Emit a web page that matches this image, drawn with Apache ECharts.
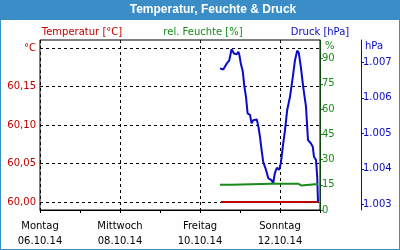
<!DOCTYPE html>
<html><head><meta charset="utf-8">
<script src="https://cdn.jsdelivr.net/npm/echarts@6/dist/echarts.min.js"></script>
<style>html,body{margin:0;padding:0;background:#fff}#c{width:400px;height:250px}</style>
</head><body><div id="c"></div>
<script>
// x values are days since Montag 06.10.14 00:00
const dayNames = ['Montag','Dienstag','Mittwoch','Donnerstag','Freitag','Samstag','Sonntag','Montag'];
const dayDates = ['06.10.14','07.10.14','08.10.14','09.10.14','10.10.14','11.10.14','12.10.14','13.10.14'];
const tempTicks = [60.00, 60.05, 60.10, 60.15, 60.20];
const humTicks = [0, 15, 30, 45, 60, 75, 90];
const pressTicks = [1003, 1004, 1005, 1006, 1007];

const pressX = [4.50,4.54,4.58,4.67,4.73,4.77,4.79,4.82,4.85,4.875,4.92,4.96,4.98,5.02,5.07,5.11,5.15,5.19,5.25,5.29,5.33,5.42,5.46,5.50,5.54,5.58,5.65,5.71,5.79,5.83,5.87,5.92,5.975,6.02,6.07,6.125,6.18,6.25,6.32,6.375,6.43,6.47,6.52,6.58,6.65,6.70,6.77,6.82,6.85,6.90,6.93,6.95];
const pressY = [1006.83,1006.78,1006.80,1006.97,1007.05,1007.08,1007.37,1007.39,1007.25,1007.21,1007.23,1007.30,1007.23,1006.97,1006.74,1006.31,1006.03,1005.56,1005.52,1005.28,1005.37,1005.39,1005.19,1004.90,1004.53,1004.20,1003.97,1003.73,1003.68,1003.59,1003.87,1004.03,1003.97,1004.15,1004.62,1005.09,1005.66,1006.03,1006.59,1007.06,1007.33,1007.27,1006.88,1006.31,1005.75,1004.81,1004.72,1004.62,1004.34,1004.25,1003.78,1003.07];

const humX = [4.50,4.79,4.80,5.80,5.81,5.84,5.85,6.45,6.47,6.53,6.55,6.95];
const humY = [15.05,15.05,15.65,15.65,15.30,15.30,15.65,15.65,14.6,14.6,15.4,15.4];

const tempX = [4.52,5.00,5.50,6.00,6.50,6.95];
const tempY = [60.00,60.00,60.00,60.00,60.00,60.00];

const RED = '#c00000', GREEN = '#1a8a1a', BLUE = '#0a0ac8', BLACK = '#000000';
const FONT = 'DejaVu Sans';

const chart = echarts.init(document.getElementById('c'), null, {renderer: 'canvas'});
const zip = (a, b) => a.map((v, i) => [v, b[i]]);

chart.setOption({
  animation: false,
  backgroundColor: '#fdfefd',
  textStyle: {fontFamily: FONT},
  graphic: [
    {type: 'rect', left: 0, top: 0, shape: {x: 0, y: 0, width: 400, height: 20}, style: {fill: '#3b8dc7'}, z: 0},
    {type: 'rect', shape: {x: 0.5, y: 0.5, width: 399, height: 249}, style: {fill: null, stroke: '#3b8dc7', lineWidth: 1}, z: 0},
    {type: 'text', x: 213, y: 10, style: {text: 'Temperatur, Feuchte & Druck', fill: '#fff', font: 'bold 12px "Liberation Sans"', textAlign: 'center', textVerticalAlign: 'middle'}},
    {type: 'text', x: 82, y: 32, style: {text: 'Temperatur [°C]', fill: RED, font: '10px "DejaVu Sans"', textAlign: 'center', textVerticalAlign: 'middle'}},
    {type: 'text', x: 203, y: 32, style: {text: 'rel. Feuchte [%]', fill: GREEN, font: '10px "DejaVu Sans"', textAlign: 'center', textVerticalAlign: 'middle'}},
    {type: 'text', x: 320, y: 32, style: {text: 'Druck [hPa]', fill: BLUE, font: '10px "DejaVu Sans"', textAlign: 'center', textVerticalAlign: 'middle'}},
    {type: 'text', x: 325, y: 46, style: {text: '%', fill: GREEN, font: '10px "DejaVu Sans"', textAlign: 'left', textVerticalAlign: 'middle'}},
    {type: 'text', x: 365, y: 46, style: {text: 'hPa', fill: BLUE, font: '10px "DejaVu Sans"', textAlign: 'left', textVerticalAlign: 'middle'}}
  ],
  grid: {left: 40, right: 80, top: 40, bottom: 40, show: true, borderColor: BLACK, borderWidth: 1, backgroundColor: 'transparent', z: 3},
  xAxis: [
    {type: 'value', min: 0, max: 7, interval: 1,
      axisLine: {onZero: false, lineStyle: {color: BLACK, width: 1}},
      axisTick: {show: true, length: 3, lineStyle: {color: BLACK}},
      splitLine: {show: false},
      axisLabel: {color: BLACK, fontSize: 10, fontFamily: FONT, lineHeight: 15, margin: 9,
        formatter: v => (Math.round(v) % 2 === 0 && v < 7) ? dayNames[Math.round(v)] + '\n' + dayDates[Math.round(v)] : ''}
    },
    {type: 'value', min: 0, max: 7, interval: 2,
      axisLine: {show: false, onZero: false}, axisTick: {show: false}, axisLabel: {show: false},
      splitLine: {show: true, lineStyle: {color: BLACK, type: [3, 3], width: 1}}
    }
  ],
  yAxis: [
    {type: 'value', position: 'left', min: 59.98961, max: 60.21039,
      axisLine: {show: false, onZero: false},
      axisTick: {show: false, customValues: tempTicks},
      splitLine: {show: true, lineStyle: {color: BLACK, type: [3, 3], width: 1}},
      axisLabel: {customValues: tempTicks, color: RED, fontSize: 10, fontFamily: FONT, margin: 4,
        formatter: v => Math.abs(v - 60.2) < 1e-6 ? '°C' : v.toFixed(2).replace('.', ',')}
    },
    {type: 'value', position: 'right', min: 0, max: 101.1,
      axisLine: {show: true, onZero: false, lineStyle: {color: GREEN}},
      axisTick: {show: true, inside: false, length: 3, customValues: humTicks, lineStyle: {color: GREEN}},
      splitLine: {show: false},
      axisLabel: {customValues: humTicks, color: GREEN, fontSize: 10, fontFamily: FONT, margin: 2}
    },
    {type: 'value', position: 'right', offset: 41, min: 1002.84, max: 1007.63,
      axisLine: {show: true, onZero: false, lineStyle: {color: BLUE}},
      axisTick: {show: true, length: 3, customValues: pressTicks, lineStyle: {color: BLUE}},
      splitLine: {show: false},
      axisLabel: {customValues: pressTicks, color: BLUE, fontSize: 10, fontFamily: FONT, margin: 2,
        formatter: v => '1.' + String(Math.round(v - 1000)).padStart(3, '0')}
    }
  ],
  series: [
    {type: 'line', name: 'Druck', xAxisIndex: 0, yAxisIndex: 2, data: zip(pressX, pressY), showSymbol: false, lineStyle: {color: BLUE, width: 2}, z: 3},
    {type: 'line', name: 'Feuchte', xAxisIndex: 0, yAxisIndex: 1, data: zip(humX, humY), showSymbol: false, lineStyle: {color: GREEN, width: 2}, z: 4},
    {type: 'line', name: 'Temperatur', xAxisIndex: 0, yAxisIndex: 0, data: zip(tempX, tempY), showSymbol: false, lineStyle: {color: RED, width: 2}, z: 5}
  ]
});
</script></body></html>
